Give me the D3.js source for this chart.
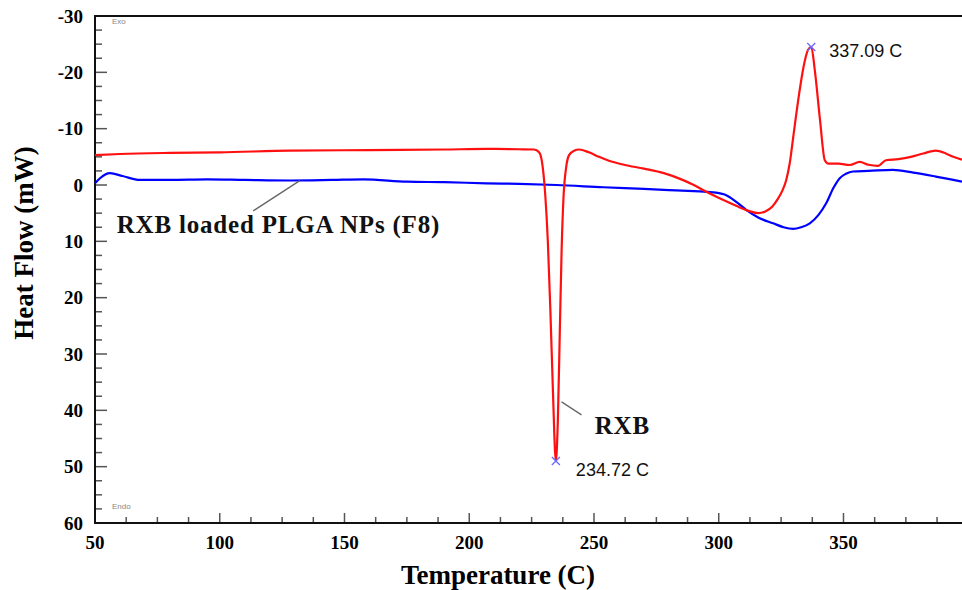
<!DOCTYPE html>
<meta charset="utf-8">
<style>
    body { margin: 0; background: #fff; }
    svg { display: block; }
</style>
<svg width="962" height="590"></svg>

<script src="https://d3js.org/d3.v7.min.js"></script>
<script>
    // RXB (pure drug) curve
    var rxbTemp = [50, 60, 80, 100, 128, 160, 190, 207, 220, 226, 228, 229.5, 230.5, 231.5, 232.5, 233.5, 234.72,
        235.5, 236.3, 237, 237.8, 238.8, 240, 242, 244, 248, 252, 256, 262, 270, 278, 285, 290, 295, 301, 307,
        312, 316, 319, 321.5, 323.5, 325.5, 327, 328.5, 330, 332, 334, 335.8, 337.09, 338.5, 340.6, 342.5,
        344, 348, 352.5, 356.5, 360, 363.8, 367, 372, 377, 382, 387, 391, 394, 397.5];
    var rxbFlow = [-5.3, -5.5, -5.7, -5.8, -6.1, -6.2, -6.3, -6.4, -6.35, -6.3, -5.8, -3, 2, 10, 22, 36, 49,
        42, 26, 12, 2, -3, -5.3, -6.1, -6.3, -5.8, -5.0, -4.3, -3.6, -2.9, -2.1, -1.0, 0, 1.2, 2.5, 3.7,
        4.6, 5.0, 4.6, 3.8, 2.6, 1.0, -0.8, -4, -9, -15.5, -21, -24, -24.5, -20.4, -11.5, -4.4,
        -3.8, -3.8, -3.55, -4.1, -3.6, -3.4, -4.4, -4.6, -5.0, -5.6, -6.1, -5.6, -5.0, -4.5];

    // RXB loaded PLGA NPs (F8) curve
    var f8Temp = [50, 52, 56, 61, 68, 80, 95, 110, 128, 145, 157.5, 175, 190, 207, 220, 235, 253.7, 270, 280,
        290, 297.7, 303, 307, 311, 316, 321.8, 326, 329.8, 333, 336.5, 340, 343, 346, 348.5, 351, 353.8, 360,
        369.8, 378, 387, 393, 397.5];
    var f8Flow = [-0.3, -1.2, -2.1, -1.6, -0.9, -0.9, -1.0, -0.9, -0.8, -0.9, -1.0, -0.6, -0.5, -0.3, -0.2, 0,
        0.4, 0.7, 0.9, 1.1, 1.3, 1.8, 3.0, 4.4, 5.8, 6.8, 7.5, 7.8, 7.5, 6.8, 5.3, 3.3, 0.5, -1.2, -2.0, -2.4,
        -2.5, -2.7, -2.2, -1.5, -1.0, -0.6];

    var xTicks = [50, 100, 150, 200, 250, 300, 350];
    var yTicks = [-30, -20, -10, 0, 10, 20, 30, 40, 50, 60];
    var peakTemps = [234.72, 337.09];
    var peakFlows = [49, -24.5];
    var peakLabels = ["234.72 C", "337.09 C"];

    var svg = d3.select("svg"),
        LEFT = 95,
        RIGHT = 962,
        TOP = 16,
        BOTTOM = 523,
        x = d3.scaleLinear().domain([50, 397.5]).range([LEFT, RIGHT]),
        y = d3.scaleLinear().domain([-30, 60]).range([TOP, BOTTOM]),
        SERIF = "'Liberation Serif', 'Times New Roman', serif",
        SANS = "'Liberation Sans', Arial, sans-serif";

    var line = d3.line()
        .x(function (d) { return x(d[0]); })
        .y(function (d) { return y(d[1]); })
        .curve(d3.curveMonotoneX);

    // minor ticks (4 subdivisions)
    var xMinor = d3.range(50, 397.5, 12.5).filter(function (t) { return t % 50 !== 0; }),
        yMinor = d3.range(-30, 60, 2.5).filter(function (t) { return t % 10 !== 0; });

    var ticks = svg.append("g").attr("stroke", "#555").attr("stroke-width", 1.5);
    ticks.selectAll(".ym").data(yMinor).enter().append("line")
        .attr("x1", LEFT).attr("x2", LEFT + 7)
        .attr("y1", y).attr("y2", y);
    ticks.selectAll(".yM").data(yTicks).enter().append("line")
        .attr("x1", LEFT).attr("x2", LEFT + 12)
        .attr("y1", y).attr("y2", y);
    ticks.selectAll(".xm").data(xMinor).enter().append("line")
        .attr("y1", BOTTOM).attr("y2", BOTTOM - 6)
        .attr("x1", x).attr("x2", x);
    ticks.selectAll(".xM").data(xTicks).enter().append("line")
        .attr("y1", BOTTOM).attr("y2", BOTTOM - 10)
        .attr("x1", x).attr("x2", x);

    // frame
    svg.append("path")
        .attr("d", "M" + RIGHT + "," + TOP + "H" + LEFT + "V" + BOTTOM + "H" + RIGHT)
        .attr("fill", "none")
        .attr("stroke", "#111")
        .attr("stroke-width", 2);

    // tick labels
    svg.selectAll(".ylab").data(yTicks).enter().append("text")
        .attr("x", 83)
        .attr("y", y)
        .attr("dy", "0.35em")
        .attr("text-anchor", "end")
        .attr("font-family", SERIF)
        .attr("font-weight", "bold")
        .attr("font-size", 19)
        .text(function (d) { return d; });

    svg.selectAll(".xlab").data(xTicks).enter().append("text")
        .attr("x", x)
        .attr("y", 549)
        .attr("text-anchor", "middle")
        .attr("font-family", SERIF)
        .attr("font-weight", "bold")
        .attr("font-size", 19)
        .text(function (d) { return d; });

    // axis titles
    svg.append("text")
        .attr("x", 498)
        .attr("y", 584)
        .attr("text-anchor", "middle")
        .attr("font-family", SERIF)
        .attr("font-weight", "bold")
        .attr("font-size", 27)
        .text("Temperature (C)");

    svg.append("text")
        .attr("transform", "translate(33,243) rotate(-90)")
        .attr("text-anchor", "middle")
        .attr("font-family", SERIF)
        .attr("font-weight", "bold")
        .attr("font-size", 27)
        .text("Heat Flow (mW)");

    // Exo / Endo
    svg.append("text").attr("x", 112).attr("y", 24)
        .attr("font-family", SANS).attr("font-size", 8).attr("fill", "#888").text("Exo");
    svg.append("text").attr("x", 112).attr("y", 509)
        .attr("font-family", SANS).attr("font-size", 8).attr("fill", "#888").text("Endo");

    // curves
    svg.append("path")
        .datum(d3.zip(f8Temp, f8Flow))
        .attr("d", line)
        .attr("fill", "none")
        .attr("stroke", "#0000ff")
        .attr("stroke-width", 2.2);

    svg.append("path")
        .datum(d3.zip(rxbTemp, rxbFlow))
        .attr("d", line)
        .attr("fill", "none")
        .attr("stroke", "#ff1010")
        .attr("stroke-width", 2.2);

    // peak markers and labels
    var peaks = svg.selectAll(".peak").data(d3.zip(peakTemps, peakFlows, peakLabels)).enter().append("g")
        .attr("transform", function (d) { return "translate(" + x(d[0]) + "," + y(d[1]) + ")"; });
    peaks.append("path")
        .attr("d", "M-4,-4L4,4M-4,4L4,-4")
        .attr("stroke", "#6a6aff")
        .attr("stroke-width", 1.3);
    peaks.append("text")
        .attr("x", function (d, i) { return i === 0 ? 20 : 18; })
        .attr("y", function (d, i) { return i === 0 ? 15 : 10; })
        .attr("font-family", SANS)
        .attr("font-size", 18)
        .attr("fill", "#111")
        .text(function (d) { return d[2]; });

    // annotations (leader line from curve to label), in data units
    var notes = [
        {from: [132.1, -0.77], to: [113.4, 4.6], at: [58.7, 8.5], text: "RXB loaded PLGA NPs (F8)"},
        {from: [237, 38.5], to: [245, 40.8], at: [250.3, 44.2], text: "RXB"}
    ];
    svg.selectAll(".lead").data(notes).enter().append("line")
        .attr("x1", function (d) { return x(d.from[0]); })
        .attr("y1", function (d) { return y(d.from[1]); })
        .attr("x2", function (d) { return x(d.to[0]); })
        .attr("y2", function (d) { return y(d.to[1]); })
        .attr("stroke", "#666")
        .attr("stroke-width", 1.3);
    svg.selectAll(".note").data(notes).enter().append("text")
        .attr("x", function (d) { return x(d.at[0]); })
        .attr("y", function (d) { return y(d.at[1]); })
        .attr("font-family", SERIF)
        .attr("font-weight", "bold")
        .attr("font-size", 25)
        .attr("letter-spacing", 0.8)
        .attr("fill", "#111")
        .text(function (d) { return d.text; });
</script>
